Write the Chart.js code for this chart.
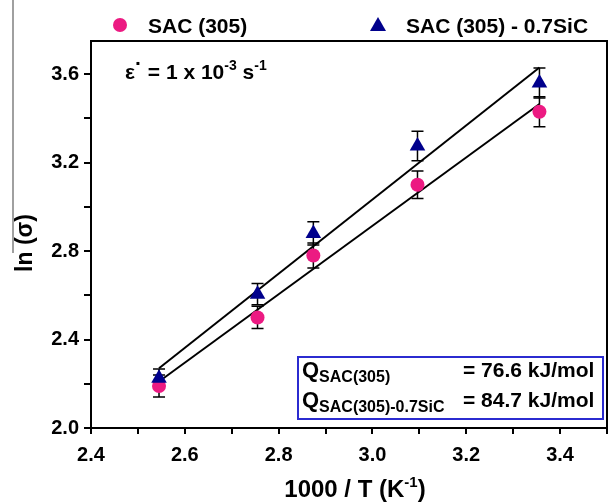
<!DOCTYPE html>
<html>
<head>
<meta charset="utf-8">
<script src="https://cdn.jsdelivr.net/npm/chart.js@4"></script>
<style>
  html, body { margin:0; padding:0; background:#fff; }
  #c { display:block; }
</style>
</head>
<body>
<canvas id="c" width="616" height="504"></canvas>
<script>
// ===== DATA =====
const invT = [2.545, 2.755, 2.874, 3.096, 3.356];           // 1000/T (K^-1)
const sacY = [2.19, 2.50, 2.78, 3.10, 3.43];                 // ln(sigma) SAC (305)
const sacErr = [0.05, 0.05, 0.057, 0.062, 0.068];
const sicY = [2.225, 2.605, 2.88, 3.275, 3.56];              // ln(sigma) SAC (305) - 0.7SiC
const sicErr = [0.042, 0.048, 0.053, 0.067, 0.068];
const fitX = [2.545, 3.356];
const sacFit = [2.21, 3.465];
const sicFit = [2.27, 3.63];
const seriesNames = ['SAC (305)', 'SAC (305) - 0.7SiC'];
const qValues = ['= 76.6 kJ/mol', '= 84.7 kJ/mol'];

const PINK = '#ec1a82';
const NAVY = '#00008c';
const FONT = '"Liberation Sans", Arial, sans-serif';

const pts = (xs, ys) => xs.map((x, i) => ({ x, y: ys[i] }));

// dessine une suite de morceaux de texte (indices / exposants)
function drawRuns(ctx, x, y, parts) {
  parts.forEach(p => {
    ctx.font = 'bold ' + p[1] + 'px ' + FONT;
    ctx.fillText(p[0], x, y + (p[2] || 0));
    x += ctx.measureText(p[0]).width;
  });
}

const errorBars = {
  id: 'errorBars',
  beforeDatasetsDraw(chart) {
    const { ctx, scales: { x, y } } = chart;
    ctx.save();
    ctx.strokeStyle = '#000';
    ctx.lineWidth = 1.5;
    [[sacY, sacErr], [sicY, sicErr]].forEach(([ys, es]) => {
      invT.forEach((v, i) => {
        const px = x.getPixelForValue(v);
        const top = y.getPixelForValue(ys[i] + es[i]);
        const bot = y.getPixelForValue(ys[i] - es[i]);
        ctx.beginPath();
        ctx.moveTo(px, top); ctx.lineTo(px, bot);
        ctx.moveTo(px - 6, top); ctx.lineTo(px + 6, top);
        ctx.moveTo(px - 6, bot); ctx.lineTo(px + 6, bot);
        ctx.stroke();
      });
    });
    ctx.restore();
  }
};

const decor = {
  id: 'decor',
  afterDraw(chart) {
    const { ctx, chartArea: a } = chart;
    ctx.save();
    // cadre
    ctx.strokeStyle = '#000';
    ctx.lineWidth = 2;
    ctx.strokeRect(a.left, a.top, a.right - a.left, a.bottom - a.top);

    // trait gris à gauche (bord de la figure voisine)
    ctx.strokeStyle = '#808080';
    ctx.lineWidth = 1.5;
    ctx.beginPath(); ctx.moveTo(13, 0); ctx.lineTo(13, 253); ctx.stroke();

    ctx.fillStyle = '#000';
    ctx.textAlign = 'left';
    ctx.textBaseline = 'alphabetic';

    // légende
    ctx.fillStyle = PINK;
    ctx.beginPath(); ctx.arc(120, 25, 7, 0, Math.PI * 2); ctx.fill();
    ctx.fillStyle = NAVY;
    ctx.beginPath(); ctx.moveTo(378, 17); ctx.lineTo(386, 31); ctx.lineTo(370, 31); ctx.closePath(); ctx.fill();
    ctx.fillStyle = '#000';
    drawRuns(ctx, 148, 33, [[seriesNames[0], 21]]);
    drawRuns(ctx, 406, 33, [[seriesNames[1], 21]]);

    // vitesse de déformation
    drawRuns(ctx, 125, 79, [['ε', 21], ['·', 21, -9], [' = 1 x 10', 21], ['-3', 14, -9], [' s', 21], ['-1', 14, -9]]);

    // encadré énergies d'activation
    ctx.fillStyle = '#fff';
    ctx.fillRect(298, 357, 305, 62);
    ctx.strokeStyle = '#2b2bd0';
    ctx.lineWidth = 2;
    ctx.strokeRect(298, 357, 305, 62);
    ctx.fillStyle = '#000';
    drawRuns(ctx, 302, 377, [['Q', 22], ['SAC(305)', 16, 5]]);
    drawRuns(ctx, 463, 377, [[qValues[0], 21]]);
    drawRuns(ctx, 302, 407, [['Q', 22], ['SAC(305)-0.7SiC', 16, 5]]);
    drawRuns(ctx, 463, 407, [[qValues[1], 21]]);

    // titre axe x
    ctx.font = 'bold 24px ' + FONT;
    const p1 = '1000 / T (K', p2 = '-1', p3 = ')';
    let w = ctx.measureText(p1).width + ctx.measureText(p3).width;
    ctx.font = 'bold 15px ' + FONT;
    w += ctx.measureText(p2).width;
    drawRuns(ctx, 355 - w / 2, 497, [[p1, 24], [p2, 15, -10], [p3, 24]]);

    // titre axe y
    ctx.translate(26, 243);
    ctx.rotate(-Math.PI / 2);
    ctx.textAlign = 'center';
    ctx.textBaseline = 'middle';
    ctx.font = 'bold 23px ' + FONT;
    ctx.fillText('ln (σ)', 0, 0);
    ctx.restore();
  }
};

const tickFont = { family: FONT, size: 20, weight: 'bold' };

new Chart(document.getElementById('c'), {
  type: 'scatter',
  data: {
    datasets: [
      { label: 'fit SiC', type: 'line', data: pts(fitX, sicFit), borderColor: '#000', borderWidth: 2, pointRadius: 0, fill: false, order: 3 },
      { label: 'fit SAC', type: 'line', data: pts(fitX, sacFit), borderColor: '#000', borderWidth: 2, pointRadius: 0, fill: false, order: 3 },
      { label: seriesNames[0], data: pts(invT, sacY), pointStyle: 'circle', pointRadius: 7, backgroundColor: PINK, borderColor: PINK, borderWidth: 0, order: 2 },
      { label: seriesNames[1], data: pts(invT, sicY), pointStyle: 'triangle', pointRadius: 9, backgroundColor: NAVY, borderColor: NAVY, borderWidth: 0, order: 1 },
    ]
  },
  options: {
    responsive: false,
    devicePixelRatio: 1,
    animation: false,
    layout: { padding: { top: 41, right: 3, left: 0, bottom: 0 } },
    plugins: { legend: { display: false }, tooltip: { enabled: false } },
    scales: {
      x: {
        type: 'linear', min: 2.4, max: 3.5,
        afterFit: s => { s.height = 76; },
        border: { display: true, color: '#000', width: 2 },
        grid: { drawOnChartArea: false, drawTicks: true, tickLength: 6, color: '#000', lineWidth: 2 },
        ticks: {
          stepSize: 0.1, includeBounds: false, color: '#000', font: tickFont, padding: 9, maxRotation: 0,
          autoSkip: false,
          callback: v => Math.round(v * 10) % 2 === 0 ? v.toFixed(1) : ''
        }
      },
      y: {
        type: 'linear', min: 2.0, max: 3.75,
        afterFit: s => { s.width = 91; },
        border: { display: true, color: '#000', width: 2 },
        grid: { drawOnChartArea: false, drawTicks: true, tickLength: 7, color: '#000', lineWidth: 2 },
        ticks: {
          stepSize: 0.2, includeBounds: false, color: '#000', font: tickFont, padding: 5,
          autoSkip: false,
          callback: v => Math.round(v * 10) % 4 === 0 ? v.toFixed(1) : ''
        }
      }
    }
  },
  plugins: [errorBars, decor]
});
</script>
</body>
</html>
